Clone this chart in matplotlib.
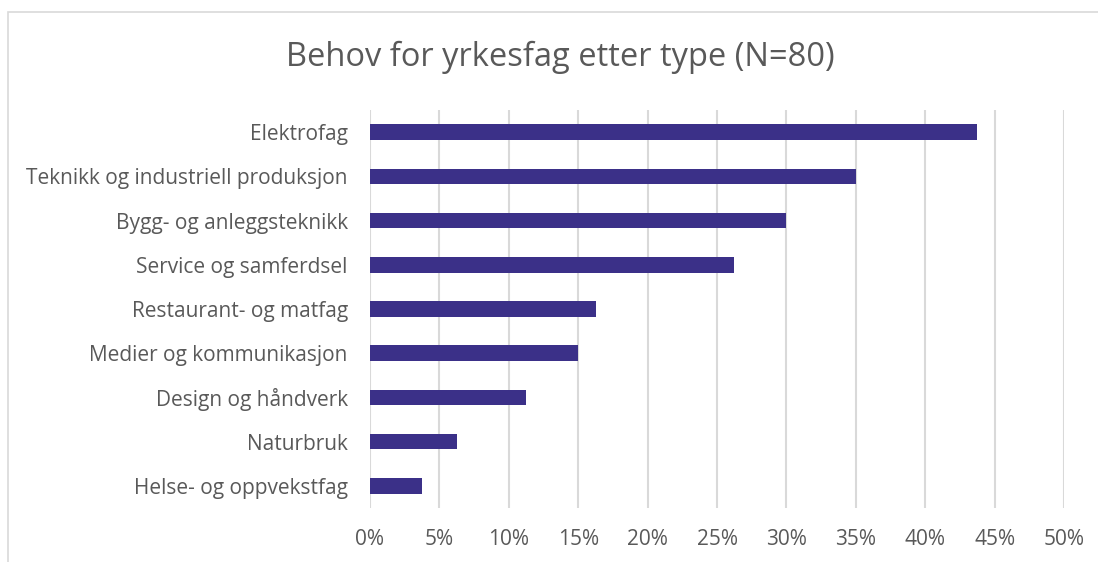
import matplotlib.pyplot as plt
from matplotlib.patches import Rectangle
from matplotlib.ticker import PercentFormatter

# data (share of 80 answers)
categories = [
    "Elektrofag",
    "Teknikk og industriell produksjon",
    "Bygg- og anleggsteknikk",
    "Service og samferdsel",
    "Restaurant- og matfag",
    "Medier og kommunikasjon",
    "Design og håndverk",
    "Naturbruk",
    "Helse- og oppvekstfag",
]
shares = [0.4375, 0.35, 0.30, 0.2625, 0.1625, 0.15, 0.1125, 0.0625, 0.0375]
xticks = [0, 0.05, 0.10, 0.15, 0.20, 0.25, 0.30, 0.35, 0.40, 0.45, 0.50]

text_col = "#595959"
bar_col = "#3B3088"
grid_col = "#D9D9D9"

plt.rcParams["font.family"] = ["Open Sans", "DejaVu Sans"]

fig = plt.figure(figsize=(10.98, 5.62), dpi=100)
W, H = 1098, 562

# outer chart frame (cut off at right/bottom edge like the reference)
fig.patches.append(Rectangle((8 / W, -0.1), 1.2, 1 - 12 / H + 0.1,
                             transform=fig.transFigure, fill=False,
                             edgecolor="#D9D9D9", linewidth=1.2))

ax = fig.add_axes([370 / W, 1 - 508 / H, (1064 - 370) / W, (508 - 110) / H])

ypos = list(range(len(categories)))
ax.barh(ypos, shares, height=0.35, color=bar_col, zorder=3)
ax.set_ylim(len(categories) - 0.5, -0.5)
ax.set_yticks(ypos)
ax.set_yticklabels(categories)
ax.set_xlim(0, 0.5)
ax.set_xticks(xticks)
ax.xaxis.set_major_formatter(PercentFormatter(1.0, decimals=0))

ax.grid(axis="x", color=grid_col, linewidth=1.5, zorder=0)
for s in ax.spines.values():
    s.set_visible(False)
ax.tick_params(axis="both", length=0, labelsize=15, colors=text_col)
ax.tick_params(axis="y", pad=16)
ax.tick_params(axis="x", pad=15)

fig.text(560 / W, 1 - 57 / H, "Behov for yrkesfag etter type (N=80)",
         ha="center", va="center", fontsize=23.5, color=text_col)

fig.savefig("out.png", dpi=100)
